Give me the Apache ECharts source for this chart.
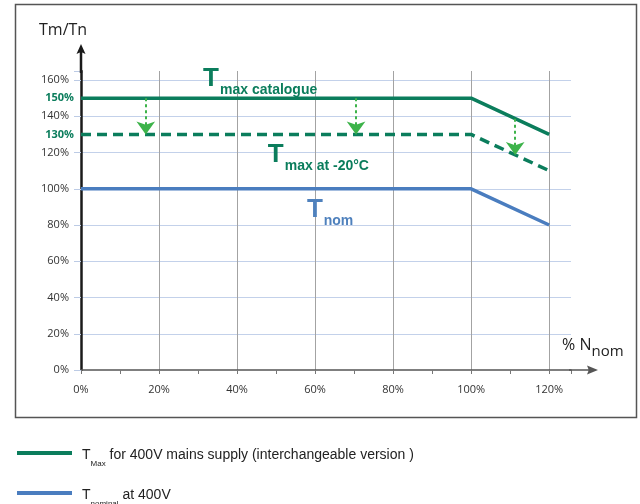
<!DOCTYPE html>
<html><head><meta charset="utf-8">
<script src="https://cdn.jsdelivr.net/npm/echarts@6/dist/echarts.min.js"></script>
<style>html,body{margin:0;padding:0;background:#fff}#c{width:640px;height:504px}</style>
</head><body><div id="c"></div>
<script>
// ---- data ----
const speedPct = [0, 100, 120];
const tmaxCatalogue = [150, 150, 130];
const tmaxMinus20 = [130, 130, 110];
const tNominal = [100, 100, 80];
const arrowSpeed = [16.6, 70.5, 111.3];
const arrowFrom = [150, 150, 138.7];
const arrowTo = [130, 130, 118.7];
const xTickLabels = [0, 20, 40, 60, 80, 100, 120];
const yTickLabels = [0, 20, 40, 60, 80, 100, 120, 140, 160];
const yHighlightLabels = [130, 150];
const xMax = 125.6;
const yMax = 165;

// ---- styles ----
const G = '#0b7d5c';
const B = '#4a7dbf';
const BT = '#4f81bd';
const AG = '#3db34a';
const FONT = "'Open Sans', sans-serif";
const AFONT = "'Liberation Sans', Arial, sans-serif";
const LFONT = "'Liberation Sans Narrow', 'Liberation Sans', Arial, sans-serif";

const pair = (xs, ys) => xs.map((x, i) => [x, ys[i]]);

const chart = echarts.init(document.getElementById('c'), null, {renderer: 'canvas'});

const annot = (text, color) => ({
  show: true, position: [0, 0], align: 'left', verticalAlign: 'bottom',
  formatter: '{T|T}{s|' + text + '}',
  rich: {
    T: {fontSize: 26, fontWeight: 'bold', color: color, fontFamily: AFONT, padding: [0, 1, 5, 0], verticalAlign: 'bottom', lineHeight: 26},
    s: {fontSize: 14, fontWeight: 'bold', color: color, fontFamily: AFONT, verticalAlign: 'bottom', lineHeight: 16}
  }
});

const option = {
  animation: false,
  backgroundColor: '#ffffff',
  title: [
    {text: 'Tm/Tn', left: 39, top: 22, padding: 0,
     textStyle: {fontSize: 16, fontWeight: 'normal', color: '#222', fontFamily: FONT}},
    {text: '{a|% N}{b|nom}', left: 562, top: 337, padding: 0,
     textStyle: {fontWeight: 'normal', rich: {
       a: {fontSize: 16, fontWeight: 'normal', color: '#222', fontFamily: FONT, padding: [0, 0, 6, 0], verticalAlign: 'bottom'},
       b: {fontSize: 15, fontWeight: 'normal', color: '#222', fontFamily: FONT, verticalAlign: 'bottom'}
     }}}
  ],
  graphic: [
    {type: 'rect', shape: {x: 15.5, y: 4.5, width: 621, height: 413},
     style: {fill: 'none', stroke: '#555', lineWidth: 1.5}, z: 0}
  ],
  legend: {
    orient: 'vertical', left: 17, top: 445, padding: 0, itemWidth: 55, itemHeight: 4, itemGap: 12,
    height: 120, icon: 'rect', selectedMode: false,
    data: ['Tmax', 'Tnom'],
    formatter: n => n === 'Tmax'
      ? '{t|T}{s|Max}{t| for 400V mains supply (interchangeable version )}'
      : '{t|T}{s|nominal}{t| at 400V}',
    textStyle: {
      padding: [0, 0, 0, 5],
      rich: {
        t: {fontSize: 14, color: '#222', fontFamily: LFONT, padding: [3, 0, 0, 0], verticalAlign: 'top', lineHeight: 16},
        s: {fontSize: 8, color: '#222', fontFamily: LFONT, padding: [15, 0, 5, 0], verticalAlign: 'top', lineHeight: 10}
      }
    }
  },
  grid: {left: 81, right: 640 - 571, top: 71, bottom: 504 - 370, containLabel: false},
  xAxis: {
    type: 'value', min: 0, max: xMax, interval: 20,
    axisLine: {show: true, symbol: ['none', 'path://M4.5 0 L9 11 L5.25 9.5 L5.25 29 L3.75 29 L3.75 9.5 L0 11 Z'],
      symbolSize: [9, 29], symbolOffset: [0, 12.5],
      lineStyle: {color: '#555', width: 1.5}},
    axisTick: {show: true, length: 4, inside: false, lineStyle: {color: '#777', width: 1}},
    minorTick: {show: true, splitNumber: 2, length: 4, lineStyle: {color: '#777', width: 1}},
    axisLabel: {margin: 14, fontSize: 11, color: '#333', fontFamily: FONT,
      formatter: v => xTickLabels.includes(v) ? v + '%' : ''},
    splitLine: {show: true, showMinLine: false, showMaxLine: false, lineStyle: {color: '#a3a3a3', width: 1}}
  },
  yAxis: [
    {
      type: 'value', min: 0, max: yMax, interval: 20, position: 'left',
      axisLine: {show: true, symbol: ['none', 'path://M4.5 0 L9 10 L5.75 8.5 L5.75 29 L3.25 29 L3.25 8.5 L0 10 Z'],
        symbolSize: [9, 29], symbolOffset: [0, 12.5],
        lineStyle: {color: '#1a1a1a', width: 2.5}},
      axisTick: {show: true, length: 7, lineStyle: {color: '#bccbe5', width: 1}},
      axisLabel: {margin: 12, fontSize: 11, color: '#333', fontFamily: FONT,
        formatter: v => yTickLabels.includes(v) ? v + '%' : ''},
      splitLine: {show: true, showMinLine: false, showMaxLine: false, lineStyle: {color: '#c3d1ea', width: 1.2}}
    },
    {
      type: 'value', min: 0, max: yMax, interval: 10, position: 'left',
      axisLine: {show: false}, axisTick: {show: false}, splitLine: {show: false},
      axisLabel: {margin: 7, fontSize: 11, fontWeight: 'bold', color: G, fontFamily: FONT,
        formatter: v => yHighlightLabels.includes(v) ? v + '%' : ''}
    }
  ],
  series: [
    {
      name: 'Tmax', type: 'line', data: pair(speedPct, tmaxCatalogue), symbol: 'none',
      lineStyle: {color: G, width: 3.5}, itemStyle: {color: G}, z: 4,
      markPoint: {symbol: 'circle', symbolSize: 0, silent: true,
        data: [{coord: [31.3, 150.5], label: annot('max catalogue', G)}]}
    },
    {
      name: 'Tmax20', type: 'line', data: pair(speedPct, tmaxMinus20), symbol: 'none',
      lineStyle: {color: G, width: 3.5, type: [10, 6]}, itemStyle: {color: G}, z: 4,
      markPoint: {symbol: 'circle', symbolSize: 0, silent: true,
        data: [{coord: [47.9, 108.8], label: annot('max at -20°C', G)}]}
    },
    {
      name: 'Tnom', type: 'line', data: pair(speedPct, tNominal), symbol: 'none',
      lineStyle: {color: B, width: 3.5}, itemStyle: {color: B}, z: 4,
      markPoint: {symbol: 'circle', symbolSize: 0, silent: true,
        data: [{coord: [57.9, 78.5], label: annot('nom', BT)}]}
    },
    {
      name: 'arrows', type: 'line', data: [], symbol: 'none', z: 5,
      markLine: {
        silent: true, symbol: ['none', 'arrow'], symbolSize: [14, 13],
        label: {show: false},
        lineStyle: {color: AG, width: 2, type: [3, 3]},
        data: arrowSpeed.map((x, i) => [
          {coord: [x, arrowFrom[i]]},
          {coord: [x, arrowTo[i]]}
        ])
      }
    }
  ]
};
chart.setOption(option);
</script>
</body></html>
